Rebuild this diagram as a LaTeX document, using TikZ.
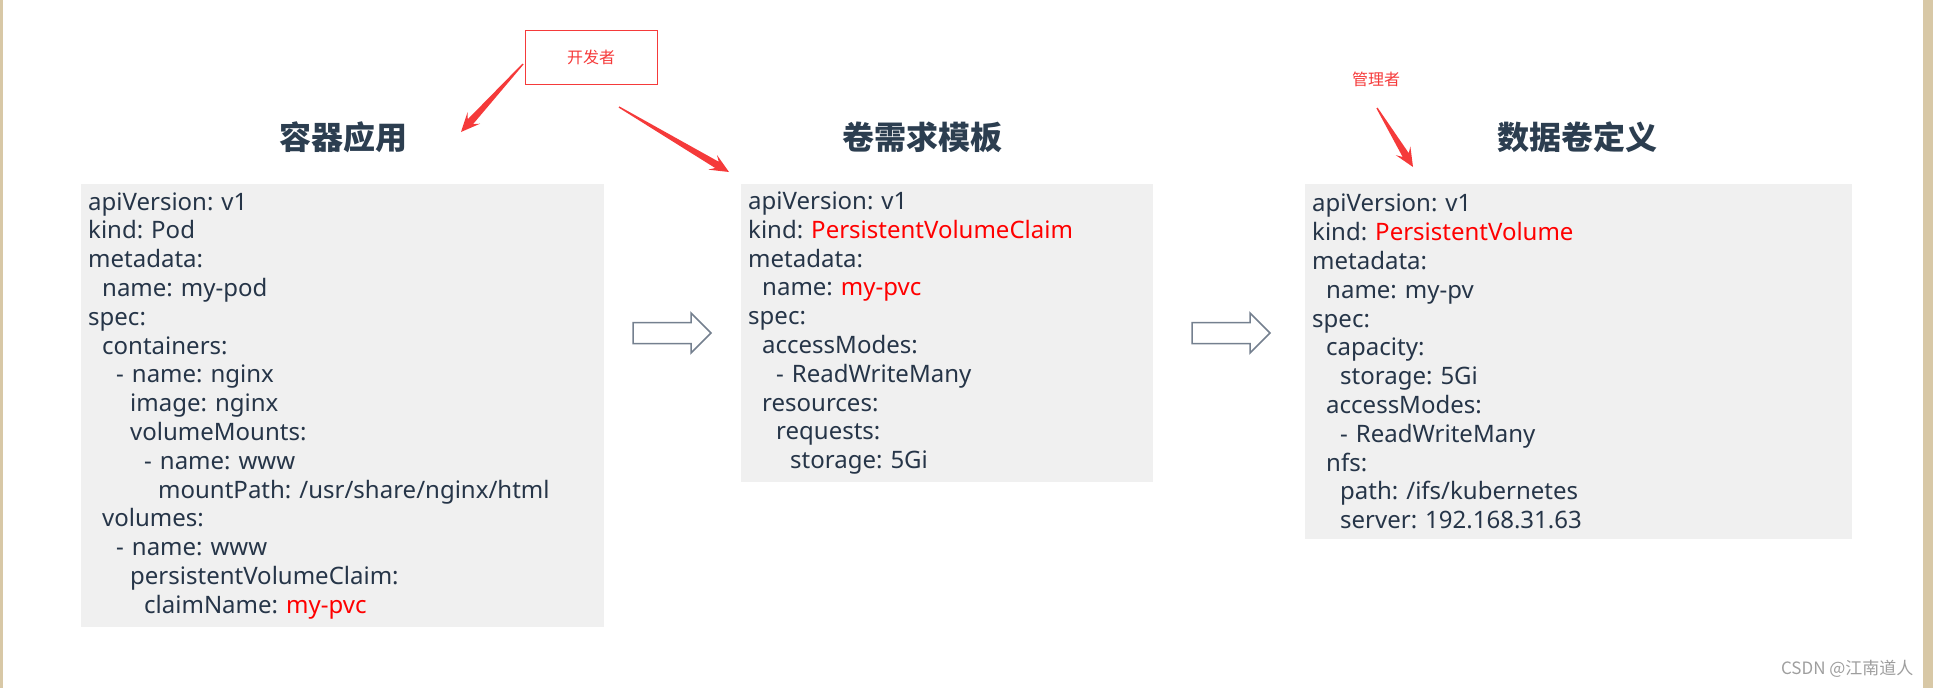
\documentclass[tikz,border=0pt]{standalone}
\usepackage{fontspec}
\setmainfont{Noto Sans}
\newfontfamily\cjk{Noto Sans CJK SC}
\usetikzlibrary{calc}
\frenchspacing

\definecolor{yamltext}{HTML}{263548}
\definecolor{titletext}{HTML}{2C3E50}
\definecolor{codebg}{HTML}{F0F0F0}
\definecolor{keyred}{HTML}{FF0000}
\definecolor{markred}{HTML}{F53A3A}
\definecolor{hollowline}{HTML}{74808F}
\definecolor{paper}{HTML}{D8C8A6}

\newlength\yamlstep
\setlength\yamlstep{7pt}
\newcommand{\ind}[1]{\hspace*{#1\yamlstep}}
\newcommand{\hl}[1]{\textcolor{keyred}{#1}}

\newcommand{\taperarrow}[2]{%
    \coordinate (tbase) at ($(#2)!14pt!(#1)$);
    \coordinate (tbarb) at ($(#2)!19pt!(#1)$);
    \fill[markred] ($(#1)!0.7pt!90:(#2)$) -- ($(tbase)!3.6pt!90:(#2)$) -- ($(tbarb)!8.5pt!90:(#2)$) -- (#2)
        -- ($(tbarb)!8.5pt!-90:(#2)$) -- ($(tbase)!3.6pt!-90:(#2)$) -- ($(#1)!0.7pt!-90:(#2)$) -- cycle;}

\begin{document}
\begin{tikzpicture}[x=1pt,y=-1pt,
    codebox/.style={fill=codebg, anchor=north west, align=left, inner xsep=7pt, inner ysep=0pt,
        text=yamltext, font=\fontsize{24}{28.8}\selectfont},
    heading/.style={text=titletext, font=\fontsize{32}{36}\selectfont\cjk\bfseries},
    role/.style={text=markred, font=\fontsize{16}{18}\selectfont\cjk},
    hollow/.style={draw=hollowline, fill=white, line width=1.5pt, line join=miter}]
    \useasboundingbox (0,0) rectangle (1933,688);
    \fill[paper] (0,0) rectangle (3,688);
    \fill[paper] (1923,0) rectangle (1933,688);

    \node[role, draw=markred, line width=1pt, minimum width=132pt, minimum height=54pt] (dev) at (591,57) {开发者};
    \node[role] (admin) at (1376,79) {管理者};

    \node[heading] (pod-title) at (343,137) {容器应用};
    \node[heading] (pvc-title) at (922,137) {卷需求模板};
    \node[heading] (pv-title) at (1577,137) {数据卷定义};

    \node[codebox, text width=509pt, minimum height=443pt] (pod) at (81,184) {apiVersion: v1\\
        kind: Pod\\
        metadata:\\
        \ind{2}name: my-pod\\
        spec:\\
        \ind{2}containers:\\
        \ind{4}- name: nginx\\
        \ind{6}image: nginx\\
        \ind{6}volumeMounts:\\
        \ind{8}- name: www\\
        \ind{10}mountPath: /usr/share/nginx/html\\
        \ind{2}volumes:\\
        \ind{4}- name: www\\
        \ind{6}persistentVolumeClaim:\\
        \ind{8}claimName: \hl{my-pvc}};
    \node[codebox, text width=398pt, minimum height=298pt] (pvc) at (741,184) {apiVersion: v1\\
        kind: \hl{PersistentVolumeClaim}\\
        metadata:\\
        \ind{2}name: \hl{my-pvc}\\
        spec:\\
        \ind{2}accessModes:\\
        \ind{4}- ReadWriteMany\\
        \ind{2}resources:\\
        \ind{4}requests:\\
        \ind{6}storage: 5Gi};
    \node[codebox, text width=533pt, minimum height=355pt] (pv) at (1305,184) {apiVersion: v1\\
        kind: \hl{PersistentVolume}\\
        metadata:\\
        \ind{2}name: my-pv\\
        spec:\\
        \ind{2}capacity:\\
        \ind{4}storage: 5Gi\\
        \ind{2}accessModes:\\
        \ind{4}- ReadWriteMany\\
        \ind{2}nfs:\\
        \ind{4}path: /ifs/kubernetes\\
        \ind{4}server: 192.168.31.63};

    \foreach \ax in {633,1192}
        \draw[hollow] (\ax,322.5) -- ++(58,0) -- ++(0,-9.5) -- ++(20,20) -- ++(-20,20) -- ++(0,-9.5) -- ++(-58,0) -- cycle;

    \coordinate (dev-tail1) at (523,64);
    \coordinate (dev-tip1) at (461,132);
    \coordinate (dev-tail2) at (619,107);
    \coordinate (dev-tip2) at (729,172);
    \coordinate (admin-tail) at (1377,108);
    \coordinate (admin-tip) at (1413,167);
    \taperarrow{dev-tail1}{dev-tip1}
    \taperarrow{dev-tail2}{dev-tip2}
    \taperarrow{admin-tail}{admin-tip}

    \node[anchor=east, text=black!38, font=\fontsize{17}{19}\selectfont\cjk] (mark) at (1917,669) {CSDN @江南道人};
\end{tikzpicture}
\end{document}
